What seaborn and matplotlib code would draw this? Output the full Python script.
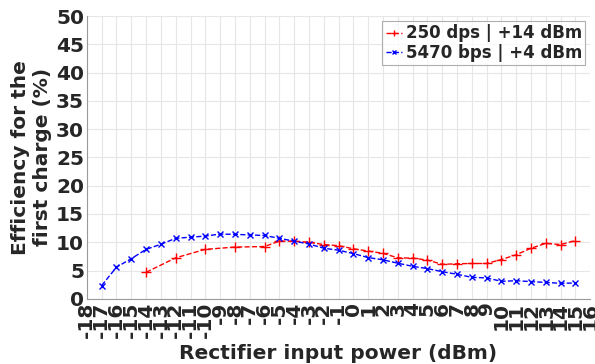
"""
Efficiency for the first charge vs rectifier input power
"""
import numpy as np
import pandas as pd
import matplotlib
matplotlib.use("Agg")
import matplotlib.pyplot as plt
import seaborn as sns

# Series
power_250 = [-14, -12, -10, -8, -6, -5, -4, -3, -2, -1, 0, 1, 2, 3, 4, 5,
             6, 7, 8, 9, 10, 11, 12, 13, 14, 15]
eff_250 = [4.7, 7.25, 8.75, 9.15, 9.25, 10.2, 10.2, 10.0, 9.6, 9.4, 8.85,
           8.45, 8.05, 7.25, 7.2, 6.85, 6.1, 6.2, 6.25, 6.25, 6.95, 7.8,
           8.95, 9.8, 9.6, 10.3]

power_5470 = list(range(-17, 16))
eff_5470 = [2.35, 5.6, 7.1, 8.75, 9.65, 10.7, 10.9, 11.1, 11.45, 11.4, 11.3,
            11.2, 10.7, 10.2, 9.7, 8.95, 8.6, 8.0, 7.3, 6.9, 6.3, 5.75, 5.35,
            4.8, 4.35, 3.8, 3.7, 3.1, 3.2, 3.05, 2.9, 2.75, 2.8]

labels = ["250 dps | +14 dBm", "5470 bps | +4 dBm"]
x_ticks = list(range(-18, 17))
y_ticks = list(range(0, 51, 5))

df_250 = pd.DataFrame({"power": power_250, "eff": eff_250})
df_5470 = pd.DataFrame({"power": power_5470, "eff": eff_5470})

sns.set_style("whitegrid")
plt.rcParams['font.family'] = ['DejaVu Sans']
plt.rcParams['font.weight'] = 'bold'

fig = plt.figure(figsize=(5.95, 3.64), dpi=100)
ax = fig.add_axes([0.146, 0.179, 0.846, 0.777])

sns.lineplot(data=df_250, x="power", y="eff", ax=ax, color="red",
             linestyle="--", linewidth=1, marker="+", markersize=7,
             markeredgewidth=1, markeredgecolor="red", label=labels[0])
sns.lineplot(data=df_5470, x="power", y="eff", ax=ax, color="blue",
             linestyle="--", linewidth=1, marker="x", markersize=4.5,
             markeredgewidth=1, markeredgecolor="blue", label=labels[1])

ax.set_xlim(-18, 16)
ax.set_ylim(0, 50)
ax.set_xticks(x_ticks)
ax.set_yticks(y_ticks)
ax.set_xticklabels([str(t) for t in x_ticks], rotation=90, fontsize=14.5,
                   fontweight="bold", color="#262626")
ax.set_yticklabels([str(t) for t in y_ticks], fontsize=14.5,
                   fontweight="bold", color="#262626")
ax.tick_params(axis="both", length=0, pad=2)
ax.grid(True, color="#e6e6e6", linewidth=0.8)

for side in ["top", "right"]:
    ax.spines[side].set_visible(False)
for side in ["left", "bottom"]:
    ax.spines[side].set_color("#9a9a9a")
    ax.spines[side].set_linewidth(0.8)

ax.set_xlabel("Rectifier input power (dBm)", fontsize=14.5, fontweight="bold",
              labelpad=4, color="#262626")
ax.set_ylabel("Efficiency for the\nfirst charge (%)", fontsize=14.5,
              fontweight="bold", labelpad=3, color="#262626")

leg = ax.legend(loc="upper right", fontsize=12, frameon=True, fancybox=False,
                handlelength=1.0, handletextpad=0.2, borderpad=0.2,
                labelspacing=0.1, borderaxespad=0.3, markerscale=0.6)
leg.get_frame().set_edgecolor("#9a9a9a")
leg.get_frame().set_linewidth(0.8)
for t in leg.get_texts():
    t.set_fontweight("bold")

plt.savefig("out.png", dpi=100)
